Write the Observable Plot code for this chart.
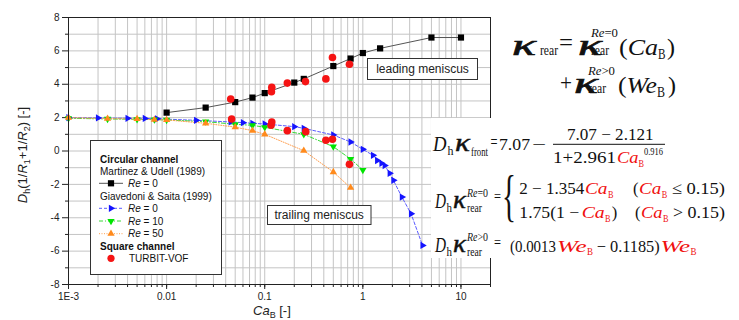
<!DOCTYPE html>
<html><head><meta charset="utf-8">
<script src="https://cdn.jsdelivr.net/npm/d3@7"></script>
<script src="https://cdn.jsdelivr.net/npm/@observablehq/plot@0.6"></script>
<style>
html,body{margin:0;padding:0;background:#fff;}
#wrap{position:relative;width:739px;height:320px;overflow:hidden;}
#wrap svg.ov{position:absolute;left:0;top:0;}
</style></head>
<body><div id="wrap"></div>
<script>
// ---- data ----
const muX = [0.01, 0.025, 0.05, 0.075, 0.1, 0.2, 0.25, 0.5, 0.75, 1, 1.5, 5, 10];
const muY = [2.3, 2.6, 2.93, 3.2, 3.47, 4.1, 4.32, 5.09, 5.54, 5.87, 6.15, 6.8, 6.8];

const g0X = [0.001, 0.002, 0.004, 0.006, 0.008, 0.02, 0.045, 0.06, 0.075, 0.1, 0.2, 0.25, 0.5, 0.75, 1.0, 1.27, 1.4, 1.55, 1.67, 1.88, 2.05, 2.5, 3.1, 4.06];
const g0Y = [2.0, 1.98, 1.96, 1.95, 1.93, 1.84, 1.74, 1.7, 1.66, 1.62, 1.46, 1.36, 0.96, 0.54, 0.1, -0.26, -0.57, -0.74, -0.87, -1.34, -1.76, -2.76, -3.76, -5.66];

const g10X = [0.001, 0.0025, 0.005, 0.0075, 0.01, 0.025, 0.05, 0.075, 0.1, 0.25, 0.5, 0.75, 1.0];
const g10Y = [1.96, 1.92, 1.9, 1.88, 1.86, 1.76, 1.6, 1.54, 1.42, 1.0, 0.26, -0.48, -1.14];

const g50X = [0.001, 0.0025, 0.005, 0.0075, 0.01, 0.025, 0.05, 0.075, 0.1, 0.25, 0.5, 0.75];
const g50Y = [2.0, 1.94, 1.92, 1.88, 1.86, 1.66, 1.43, 1.22, 1.0, 0.02, -1.26, -2.2];

const vofLeadX = [0.045, 0.117, 0.118, 0.17, 0.26, 0.42, 0.49, 0.73];
const vofLeadY = [3.12, 3.55, 3.82, 4.07, 4.16, 4.32, 5.6, 5.2];
const vofTrailX = [0.046, 0.116, 0.118, 0.17, 0.262, 0.42, 0.49, 0.73];
const vofTrailY = [1.92, 1.54, 1.74, 1.22, 1.16, 0.64, 0.7, -0.8];

const xTickValues = [0.001, 0.01, 0.1, 1, 10];
const xTickLabels = ["1E-3", "0.01", "0.1", "1", "10"];
const yTickValues = [-8, -6, -4, -2, 0, 2, 4, 6, 8];
const yTickLabels = ["-8", "-6", "-4", "-2", "0", "2", "4", "6", "8"];

// ---- helpers ----
const pts = (xs, ys) => xs.map((x, i) => ({x, y: ys[i]}));
const triR = {draw(c, s){const R = Math.sqrt(s/Math.PI)*1.2; c.moveTo(R,0); c.lineTo(-R/2, R*0.866); c.lineTo(-R/2, -R*0.866); c.closePath();}};
const triD = {draw(c, s){const R = Math.sqrt(s/Math.PI)*1.2; c.moveTo(0,R); c.lineTo(R*0.866, -R/2); c.lineTo(-R*0.866, -R/2); c.closePath();}};
const triU = {draw(c, s){const R = Math.sqrt(s/Math.PI)*1.2; c.moveTo(0,-R); c.lineTo(R*0.866, R/2); c.lineTo(-R*0.866, R/2); c.closePath();}};

const minorX = [];
for (let k = -3; k <= 1; k++) for (let m = 1; m <= 9; m++) { const v = m * Math.pow(10, k); if (v <= 20.0001) minorX.push(+v.toPrecision(6)); }
const gridYv = d3.range(-8, 9, 1);
const minorY = d3.range(-7, 8, 2);
const xLab = new Map(xTickValues.map((v, i) => [v, xTickLabels[i]]));
const yLab = new Map(yTickValues.map((v, i) => [v, yTickLabels[i]]));

const C = {blue:"#1414ff", blueL:"#5a5aff", green:"#00e400", greenL:"#3ad83a", orange:"#ff8a1c", orangeL:"#ffa050", red:"#f51414"};

const mu = pts(muX, muY), g0 = pts(g0X, g0Y), g10 = pts(g10X, g10Y), g50 = pts(g50X, g50Y);
const vl = pts(vofLeadX, vofLeadY), vt = pts(vofTrailX, vofTrailY);

const chart = Plot.plot({
  width: 739, height: 320,
  marginLeft: 68, marginRight: 249, marginTop: 17, marginBottom: 36,
  style: {fontFamily: "Liberation Sans, Arial, sans-serif", fontSize: "10px", color: "#222", background: "white"},
  x: {type: "log", domain: [0.001, 20], label: null},
  y: {domain: [-8, 8], label: null},
  marks: [
    Plot.gridX(minorX, {stroke: "#c4c4c4", strokeOpacity: 1}),
    Plot.gridY(gridYv, {stroke: "#c4c4c4", strokeOpacity: 1}),
    Plot.axisX(minorX, {tickSize: 3, tickFormat: () => "", label: null, stroke: "#222"}),
    Plot.axisX(xTickValues, {tickSize: 5, tickPadding: 3, tickFormat: d => xLab.get(d), label: null, stroke: "#222", fill: "#222"}),
    Plot.axisY(minorY, {tickSize: 3, tickFormat: () => "", label: null, stroke: "#222"}),
    Plot.axisY(yTickValues, {tickSize: 6, tickPadding: 3, tickFormat: d => yLab.get(d), label: null, stroke: "#222", fill: "#222"}),
    Plot.line(g0, {x: "x", y: "y", stroke: C.blueL, strokeWidth: 1, strokeDasharray: "3,2"}),
    Plot.line(g10, {x: "x", y: "y", stroke: C.greenL, strokeWidth: 1, strokeDasharray: "4,2,1,2"}),
    Plot.line(g50, {x: "x", y: "y", stroke: C.orangeL, strokeWidth: 1, strokeDasharray: "1,1.5"}),
    Plot.line(mu, {x: "x", y: "y", stroke: "#555", strokeWidth: 1}),
    Plot.dot(g0, {x: "x", y: "y", fill: C.blue, r: 3.5, symbol: triR}),
    Plot.dot(g10, {x: "x", y: "y", fill: C.green, r: 3.5, symbol: triD}),
    Plot.dot(g50, {x: "x", y: "y", fill: C.orange, r: 3.5, symbol: triU}),
    Plot.dot(mu, {x: "x", y: "y", fill: "#000", r: 3.5, symbol: "square"}),
    Plot.dot(vl, {x: "x", y: "y", fill: C.red, r: 3.8}),
    Plot.dot(vt, {x: "x", y: "y", fill: C.red, r: 3.8}),
    Plot.frame({stroke: "#222"})
  ]
});
const wrap = document.getElementById("wrap");
wrap.appendChild(chart);

// ---- overlay: axis titles, legend, annotations, equations ----
const ov = d3.select(wrap).append("svg").attr("class", "ov").attr("width", 739).attr("height", 320);
function txt(x, y, s, o = {}) {
  const e = ov.append("text").attr("x", x).attr("y", y)
    .attr("font-family", o.ff || "Liberation Serif, Times New Roman, serif")
    .attr("font-size", o.fs || 17).attr("fill", o.fill || "#111")
    .attr("text-anchor", o.anchor || "start");
  if (o.it) e.attr("font-style", "italic");
  if (o.bold) e.attr("font-weight", "bold");
  if (o.heavy) e.attr("stroke", o.fill || "#111").attr("stroke-width", o.heavy);
  if (o.html) e.html(s); else e.text(s);
  if (o.w) e.attr("textLength", o.w).attr("lengthAdjust", "spacingAndGlyphs");
  if (o.tr) e.attr("transform", o.tr);
  return e;
}
const SANS = "Liberation Sans, Arial, sans-serif";
// axis titles
txt(253, 315, '<tspan font-style="italic">Ca</tspan><tspan font-size="9" dy="3">B</tspan><tspan dy="-3"> [-]</tspan>', {ff: SANS, fs: 13, html: true, fill: "#222"});
txt(0, 0, '<tspan font-style="italic">D</tspan><tspan font-size="9" dy="3">h</tspan><tspan dy="-3">(1/</tspan><tspan font-style="italic">R</tspan><tspan font-size="9" dy="3">1</tspan><tspan dy="-3">+1/</tspan><tspan font-style="italic">R</tspan><tspan font-size="9" dy="3">2</tspan><tspan dy="-3">) [-]</tspan>',
  {ff: SANS, fs: 13, html: true, anchor: "middle", fill: "#222", tr: "translate(27,155) rotate(-90)"});

// legend
ov.append("rect").attr("x", 90.5).attr("y", 140.5).attr("width", 131).attr("height", 134).attr("fill", "#fff").attr("stroke", "#333");
txt(100, 162.5, "Circular channel", {ff: SANS, fs: 10, bold: true});
txt(100, 174.5, "Martinez & Udell (1989)", {ff: SANS, fs: 10});
txt(100, 199.5, "Giavedoni & Saita (1999)", {ff: SANS, fs: 10});
txt(100, 250, "Square channel", {ff: SANS, fs: 10, bold: true});
const legRows = [
  {y: 183.3, stroke: "#555", dash: null, fill: "#000", sym: d3.symbolSquare, label: '<tspan font-style="italic">Re</tspan> = 0'},
  {y: 208.3, stroke: C.blueL, dash: "3,2", fill: C.blue, sym: triR, label: '<tspan font-style="italic">Re</tspan> =  0'},
  {y: 221, stroke: C.greenL, dash: "4,2,1,2", fill: C.green, sym: triD, label: '<tspan font-style="italic">Re</tspan> = 10'},
  {y: 233.7, stroke: C.orangeL, dash: "1,1.5", fill: C.orange, sym: triU, label: '<tspan font-style="italic">Re</tspan> = 50'}
];
for (const r of legRows) {
  ov.append("line").attr("x1", 99).attr("x2", 123).attr("y1", r.y).attr("y2", r.y).attr("stroke", r.stroke).attr("stroke-dasharray", r.dash);
  ov.append("path").attr("d", d3.symbol(r.sym, Math.PI * 3.5 * 3.5)()).attr("transform", `translate(111,${r.y})`).attr("fill", r.fill);
  txt(128, r.y + 3.7, r.label, {ff: SANS, fs: 10, html: true});
}
ov.append("circle").attr("cx", 111).attr("cy", 258.3).attr("r", 3.6).attr("fill", C.red);
txt(129, 262, "TURBIT-VOF", {ff: SANS, fs: 10});

// annotations
ov.append("rect").attr("x", 367.5).attr("y", 58.5).attr("width", 110).attr("height", 21).attr("fill", "#fff").attr("stroke", "#333");
txt(422.5, 73.3, "leading meniscus", {ff: SANS, fs: 12, anchor: "middle", fill: "#222"});
ov.append("rect").attr("x", 267.5).attr("y", 205.5).attr("width", 103.5).attr("height", 19).attr("fill", "#fff").attr("stroke", "#333");
txt(319.2, 219.3, "trailing meniscus", {ff: SANS, fs: 12, anchor: "middle", fill: "#222"});

// equations
ov.append("rect").attr("x", 431).attr("y", 118).attr("width", 308).attr("height", 140).attr("fill", "#fff");
const RED = "#f01010";
const K = {fs: 30, it: true, heavy: 0.7};
// eq 1
txt(512, 55, "κ", {...K, w: 24});
txt(540, 55, "rear", {fs: 15, w: 18});
txt(559, 50, "=", {fs: 24, w: 14});
txt(578, 55, "κ", {...K, w: 24});
txt(591, 36.5, '<tspan font-style="italic">Re</tspan>=0', {fs: 13, w: 27, html: true});
txt(591, 55, "rear", {fs: 15, w: 18});
txt(619, 55, '(<tspan font-style="italic">Ca</tspan>', {fs: 24, w: 39, html: true});
txt(658, 58.5, "B", {fs: 14, w: 7.5});
txt(667, 55, ")", {fs: 24, w: 8});
txt(560, 90, "+", {fs: 24, w: 12});
txt(574, 93, "κ", {...K, w: 24});
txt(588, 74.5, '<tspan font-style="italic">Re</tspan>&gt;0', {fs: 13, w: 27, html: true});
txt(588, 93, "rear", {fs: 15, w: 18});
txt(618, 93, '(<tspan font-style="italic">We</tspan>', {fs: 24, w: 39, html: true});
txt(657, 96.5, "B", {fs: 14, w: 8});
txt(668, 93, ")", {fs: 24, w: 8});
// eq front
txt(433, 151, "D", {fs: 22, it: true, w: 13.5});
txt(447.5, 155, "h", {fs: 13, w: 6});
txt(455, 151, "κ", {fs: 26, it: true, heavy: 0.5, w: 15});
txt(471, 156, "front", {fs: 13, w: 17});
txt(490.5, 148, "=", {fs: 18, w: 7});
txt(499, 149.5, "7.07", {fs: 17, w: 31});
txt(532, 149.5, "−", {fs: 17, w: 14});
txt(567, 139.5, "7.07 − 2.121", {fs: 17, w: 86.6});
ov.append("line").attr("x1", 553).attr("x2", 665).attr("y1", 144.3).attr("y2", 144.3).attr("stroke", "#111").attr("stroke-width", 1);
txt(553, 163, "1+2.961", {fs: 17, w: 63});
txt(617, 163, "Ca", {fs: 17, it: true, w: 21.5, fill: RED});
txt(638.5, 167, "B", {fs: 10, w: 5.5, fill: RED});
txt(644, 155, "0.916", {fs: 10, w: 19});
// eq rear Re=0
txt(435, 208, "D", {fs: 22, it: true, w: 11});
txt(446.5, 211.5, "h", {fs: 13, w: 5.5});
txt(453, 208, "κ", {fs: 26, it: true, heavy: 0.5, w: 13});
txt(467, 197, '<tspan font-style="italic">Re</tspan>=0', {fs: 12, w: 21, html: true});
txt(467, 212, "rear", {fs: 13, w: 15});
txt(494, 202, "=", {fs: 17, w: 7});
txt(502, 215, "{", {fs: 56, w: 14});
txt(519.3, 194, "2 − 1.354", {fs: 17, w: 65});
txt(585, 194, "Ca", {fs: 17, it: true, w: 22.5, fill: RED});
txt(608, 197.5, "B", {fs: 10, w: 5.5, fill: RED});
txt(633, 194, "(", {fs: 17, w: 5.5});
txt(639, 194, "Ca", {fs: 17, it: true, w: 22.2, fill: RED});
txt(661.7, 197.5, "B", {fs: 10, w: 5.5, fill: RED});
txt(671.7, 194, "≤ 0.15)", {fs: 17, w: 53.3});
txt(519.3, 218.3, "1.75(1 − ", {fs: 17, w: 60});
txt(581.7, 218.3, "Ca", {fs: 17, it: true, w: 23, fill: RED});
txt(605, 222, "B", {fs: 10, w: 5.5, fill: RED});
txt(611.7, 218.3, ")", {fs: 17, w: 5.5});
txt(635, 218.3, "(", {fs: 17, w: 5.5});
txt(641, 218.3, "Ca", {fs: 17, it: true, w: 21.5, fill: RED});
txt(663, 222, "B", {fs: 10, w: 5.5, fill: RED});
txt(673, 218.3, "> 0.15)", {fs: 17, w: 52});
// eq rear Re>0
txt(435, 252, "D", {fs: 22, it: true, w: 11});
txt(446.5, 255.5, "h", {fs: 13, w: 5.5});
txt(453, 252, "κ", {fs: 26, it: true, heavy: 0.5, w: 13});
txt(467, 241, '<tspan font-style="italic">Re</tspan>&gt;0', {fs: 12, w: 21, html: true});
txt(467, 256, "rear", {fs: 13, w: 15});
txt(494, 248, "=", {fs: 17, w: 7});
txt(510, 251.7, "(0.0013", {fs: 17, w: 46});
txt(557, 251.7, "We", {fs: 17, it: true, w: 29.5, fill: RED});
txt(587, 255.2, "B", {fs: 10, w: 6, fill: RED});
txt(596.7, 251.7, "− 0.1185)", {fs: 17, w: 63});
txt(660.5, 251.7, "We", {fs: 17, it: true, w: 29.5, fill: RED});
txt(690.5, 255.2, "B", {fs: 10, w: 6, fill: RED});
</script>
</body></html>
